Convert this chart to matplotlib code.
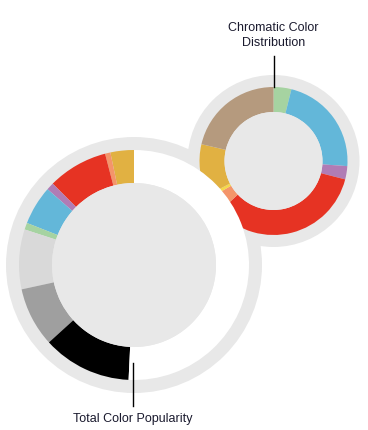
import matplotlib
matplotlib.use("Agg")
import matplotlib.pyplot as plt

# total color popularity (share of 360 deg), counter-clockwise from top
total_labels = ["Gold", "Orange", "Red", "Purple", "Blue", "Green",
                "Silver", "Gray", "Black", "White"]
total_values = [3.3, 0.75, 8.45, 1.05, 5.5, 0.95, 8.4, 8.35, 12.5, 50.75]
total_colors = ["#e1b142", "#f4956a", "#e63323", "#b07cb5", "#63b7d9", "#a6d3a1",
                "#d9d9d9", "#9f9f9f", "#000000", "#ffffff"]

# chromatic color distribution, clockwise from top
chrom_labels = ["Green", "Blue", "Purple", "Red", "Orange", "Yellow", "Gold", "Brown"]
chrom_values = [3.9, 22.2, 2.9, 34.0, 3.6, 0.8, 11.25, 21.35]
chrom_colors = ["#a6d3a1", "#63b7d9", "#b07cb5", "#e63323", "#f4956a", "#f5d84a",
                "#e1b142", "#b59a7e"]

ring_gray = "#e8e8e8"
W, H = 368, 430

fig = plt.figure(figsize=(W / 100, H / 100), dpi=100, facecolor="white")
ax = fig.add_axes([0, 0, 1, 1])

big_c = (134, H - 265)
small_c = (273.5, H - 161)

# big background ring
ax.add_patch(plt.Circle(big_c, 128, color=ring_gray, lw=0))

# small donut
ax.add_patch(plt.Circle(small_c, 86, color=ring_gray, lw=0))
ax.pie(chrom_values, colors=chrom_colors, center=small_c, radius=74,
       startangle=90, counterclock=False,
       wedgeprops=dict(width=25, linewidth=0))
ax.add_patch(plt.Circle(small_c, 49, color=ring_gray, lw=0))

# big donut
ax.pie(total_values, colors=total_colors, center=big_c, radius=115,
       startangle=90, counterclock=True,
       wedgeprops=dict(width=33, linewidth=0))
ax.add_patch(plt.Circle(big_c, 82, color=ring_gray, lw=0))

# leader lines and labels
ax.plot([small_c[0], small_c[0]], [H - 56, H - 87], color="black", lw=1)
ax.plot([133, 133], [H - 363, H - 406], color="black", lw=1)
ax.text(small_c[0], H - 35.5, "Chromatic Color\nDistribution", ha="center", va="center",
        fontsize=9, family="Liberation Sans", color="#1a1a2e", linespacing=1.25)
ax.text(133, H - 419, "Total Color Popularity", ha="center", va="center",
        fontsize=9, family="Liberation Sans", color="#1a1a2e")

ax.set_xlim(0, W)
ax.set_ylim(0, H)
ax.set_aspect("equal")
ax.axis("off")

fig.savefig("out.png", dpi=100, facecolor="white")
